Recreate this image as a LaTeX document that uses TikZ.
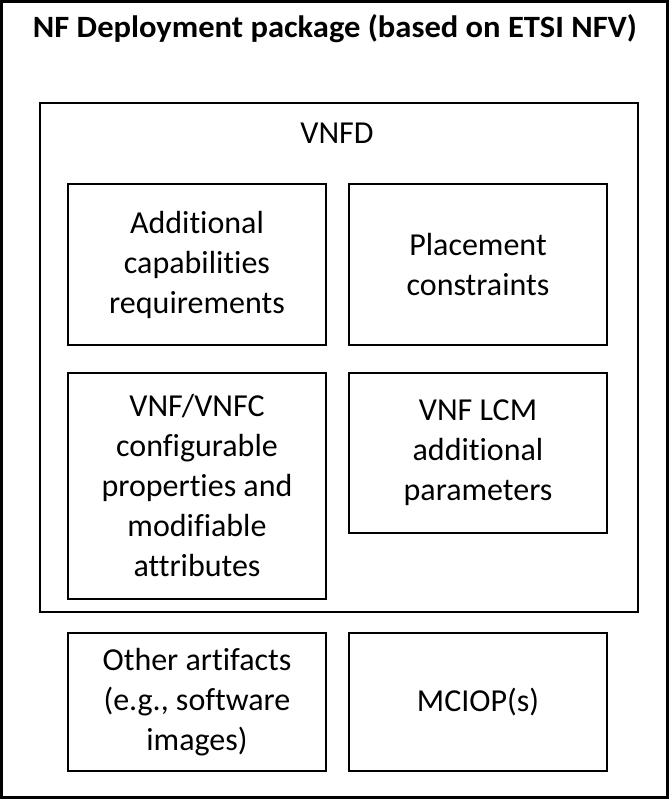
\documentclass[tikz,border=0pt]{standalone}
\usepackage{fontspec}
\setmainfont{Carlito}[Ligatures={NoCommon}]
\begin{document}
\begin{tikzpicture}[x=1pt,y=-1pt,
  inner/.style={draw,line width=2pt,align=center,font=\fontsize{32}{40}\selectfont,inner sep=0pt},
  lbl/.style={align=center,inner sep=0pt}]
\useasboundingbox (0,0) rectangle (671,799);
\draw[line width=3pt] (1.5,1.5) rectangle (667.5,797.5);
\node[inner sep=0pt,anchor=base,xscale=1.05,font=\bfseries\fontsize{31}{38}\selectfont] (title) at (335,37.5) {NF Deployment package (based on ETSI NFV)};
\node[draw,line width=2pt,minimum width=598pt,minimum height=509pt,inner sep=0pt] (vnfd) at (338.5,357.5) {};
\node[lbl,font=\fontsize{32}{40}\selectfont] (vnfdl) at (337,133) {VNFD};
\node[inner,minimum width=258pt,minimum height=161pt] (b1) at (197,264.5) {Additional\\capabilities\\requirements};
\node[inner,minimum width=258pt,minimum height=161pt] (b2) at (478,264.5) {Placement\\constraints};
\node[inner,minimum width=258pt,minimum height=226pt] (b3) at (197,486) {VNF/VNFC\\configurable\\properties and\\modifiable\\attributes};
\node[inner,minimum width=258pt,minimum height=160pt] (b4) at (478,453) {VNF LCM\\additional\\parameters};
\node[inner,minimum width=258pt,minimum height=138pt] (b5) at (197,702) {Other artifacts\\(e.g., software\\images)};
\node[inner,minimum width=258pt,minimum height=138pt] (b6) at (478,702) {MCIOP(s)};
\end{tikzpicture}
\end{document}
